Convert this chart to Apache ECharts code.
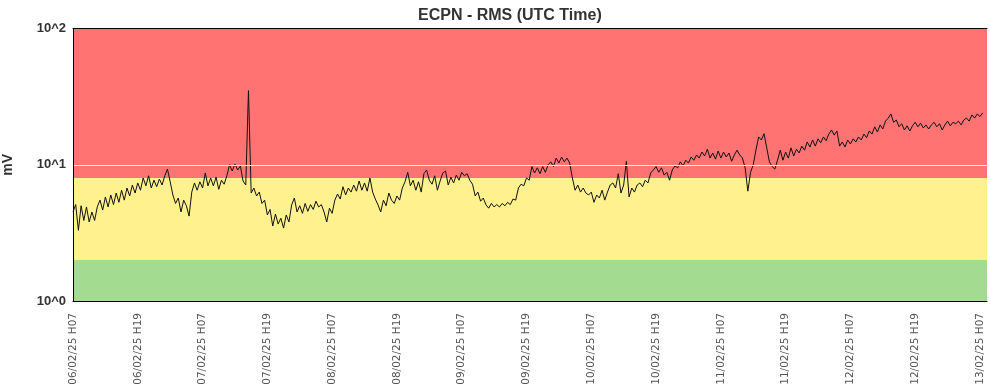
<!DOCTYPE html>
<html>
<head>
<meta charset="utf-8">
<script src="https://cdn.jsdelivr.net/npm/echarts@6/dist/echarts.min.js"></script>
<style>html,body{margin:0;padding:0;background:#fff}#c{width:990px;height:390px}</style>
</head>
<body>
<div id="c"></div>
<script>
// Time axis: hours after 06/02/25 07:00 UTC, one sample every 0.5 h
const STEP_H = 0.5;
const xTickLabels = ['06/02/25 H07','06/02/25 H19','07/02/25 H07','07/02/25 H19','08/02/25 H07','08/02/25 H19',
  '09/02/25 H07','09/02/25 H19','10/02/25 H07','10/02/25 H19','11/02/25 H07','11/02/25 H19',
  '12/02/25 H07','12/02/25 H19','13/02/25 H07'];
const yTickLabels = {1:'10^0', 10:'10^1', 100:'10^2'};
// Threshold bands (mV)
const bandGreen = [1, 2];
const bandYellow = [2, 8];
const bandRed = [8, 100];
// RMS values (mV)
const rmsValues = [
 4.5,5.1,3.3,5.0,3.9,4.9,3.8,4.5,3.9,4.9,
 5.5,4.65,5.8,4.9,6.0,5.1,6.2,5.3,6.5,5.5,6.75,
 5.9,7.1,6.2,7.35,6.5,8.0,7.0,8.3,6.75,7.7,6.9,7.85,7.1,8.3,9.3,
 7.5,6.0,5.2,5.7,4.5,5.5,5.0,4.2,6.3,
 7.35,6.5,7.5,6.75,8.7,7.0,8.0,7.0,8.1,6.6,7.7,7.2,8.3,
 10.0,9.0,10.1,9.15,9.8,7.6,7.1,
 35,
 6.2,6.75,5.9,6.3,5.2,5.5,4.28,4.7,3.55,4.35,3.67,4.05,3.43,4.28,3.8,
 5.07,5.7,4.5,5.0,4.4,5.2,4.55,5.1,4.7,5.4,4.9,5.1,4.5,3.8,4.8,4.4,5.5,6.1,5.6,
 6.9,6.0,6.75,6.3,7.1,6.4,7.6,6.5,7.35,6.4,8.0,6.3,5.6,5.07,4.5,5.5,5.0,6.2,5.5,5.2,5.9,
 5.5,6.75,7.5,8.8,7.0,7.7,6.5,7.5,6.3,8.6,9.15,7.7,7.2,8.3,6.5,7.6,8.7,9.0,7.1,8.1,7.35,8.4,7.7,8.8,8.3,8.6,7.7,7.2,
 5.9,6.3,5.4,5.7,5.07,4.8,5.2,4.9,5.1,4.9,5.2,5.0,5.3,5.1,5.6,5.5,6.75,7.2,7.0,8.0,7.7,
 9.7,8.7,9.5,8.6,9.7,8.8,10.0,10.5,9.7,11.2,10.3,11.4,10.5,11.2,10.3,
 8.0,6.5,7.1,6.3,6.75,6.2,6.0,6.3,5.3,6.0,5.7,6.5,5.5,6.3,7.1,7.35,6.75,8.6,6.2,7.1,
 10.6,
 5.8,6.75,6.3,7.1,7.35,6.9,7.7,7.35,8.7,9.15,9.7,8.8,9.5,8.4,8.8,7.7,9.15,9.8,9.5,
 10.5,9.8,10.8,10.3,11.4,10.8,11.8,11.2,12.4,11.6,13.0,11.2,12.2,11.0,12.6,11.2,12.4,11.4,12.2,10.6,11.8,12.8,11.8,11.2,
 9.5,6.4,8.8,10.0,12.8,16.0,15.2,16.9,13.3,10.5,9.7,9.3,
 10.8,12.8,10.8,12.4,11.2,13.3,11.6,13.0,12.2,13.7,12.8,14.7,13.5,15.2,13.7,15.5,14.5,16.0,15.0,16.8,18.0,16.5,17.7,
 13.7,14.7,13.5,15.2,14.2,15.5,14.7,16.0,15.2,16.8,15.8,17.7,16.8,19.0,17.4,19.6,18.3,
 20.9,22.0,23.6,20.5,21.3,19.0,20.0,18.0,19.3,17.7,19.3,20.5,19.0,20.2,18.6,19.6,18.3,19.6,20.5,19.0,
 20.0,18.0,19.6,20.9,19.3,20.5,20.0,20.9,19.6,21.3,22.0,20.9,23.2,22.0,23.6,22.6,24.0
];
const seriesData = rmsValues.map((v, i) => [i * STEP_H, v]);

const chart = echarts.init(document.getElementById('c'), null, {renderer: 'canvas'});
const axisBorder = {show: true, lineStyle: {color: '#000', width: 1}};
chart.setOption({
  animation: false,
  backgroundColor: '#fff',
  title: {
    text: 'ECPN - RMS (UTC Time)', left: 413, top: 3,
    textStyle: {fontFamily: 'Liberation Sans, Arial, sans-serif', fontWeight: 'bold', fontSize: 16, color: '#333'}
  },
  grid: {left: 73, right: 3, top: 28.5, bottom: 89, containLabel: false, outerBoundsMode: 'none'},
  xAxis: [{
    type: 'value', min: 0, max: 169.3, interval: 12, z: 5,
    axisLine: axisBorder, axisTick: {show: false}, splitLine: {show: false},
    axisLabel: {
      rotate: 90, margin: 12, showMaxLabel: false,
      fontFamily: 'DejaVu Sans, sans-serif', fontSize: 10.5, color: '#555',
      formatter: v => xTickLabels[Math.round(v / 12)] || ''
    }
  }, {
    type: 'value', position: 'top', min: 0, max: 169.3, z: 5,
    axisLine: axisBorder, axisTick: {show: false}, axisLabel: {show: false}, splitLine: {show: false}
  }],
  yAxis: [{
    type: 'log', logBase: 10, min: 1, max: 100, z: 5,
    name: 'mV', nameLocation: 'middle', nameGap: 58, nameRotate: 90,
    nameTextStyle: {fontFamily: 'Liberation Sans, Arial, sans-serif', fontWeight: 'bold', fontSize: 14, color: '#333'},
    axisLine: axisBorder, axisTick: {show: false}, splitLine: {show: false},
    axisLabel: {
      margin: 7, fontFamily: 'Liberation Sans, Arial, sans-serif', fontWeight: 'bold', fontSize: 13, color: '#333',
      formatter: v => yTickLabels[Math.round(v)] || ''
    }
  }, {
    type: 'log', logBase: 10, min: 1, max: 100, position: 'right', z: 5,
    axisLine: axisBorder, axisTick: {show: false}, axisLabel: {show: false}, splitLine: {show: false}
  }],
  series: [{
    type: 'line', data: seriesData, z: 1, silent: true, showSymbol: false,
    lineStyle: {opacity: 0}, tooltip: {show: false},
    markArea: {
      silent: true,
      data: [
        [{yAxis: bandGreen[0], itemStyle: {color: '#a3db90', opacity: 1}}, {yAxis: bandGreen[1]}],
        [{yAxis: bandYellow[0], itemStyle: {color: '#fff28e', opacity: 1}}, {yAxis: bandYellow[1]}],
        [{yAxis: bandRed[0], itemStyle: {color: '#ff7373', opacity: 1}}, {yAxis: bandRed[1]}]
      ]
    }
  }, {
    type: 'line', data: seriesData, z: 2, silent: true, showSymbol: false,
    lineStyle: {opacity: 0},
    markLine: {
      silent: true, symbol: 'none', label: {show: false},
      lineStyle: {color: '#f4f4f4', width: 1, type: 'solid'},
      data: [{yAxis: 10}]
    }
  }, {
    type: 'line', data: seriesData, z: 3, showSymbol: false, symbol: 'none',
    lineStyle: {color: '#111', width: 1}
  }]
});
</script>
</body>
</html>
